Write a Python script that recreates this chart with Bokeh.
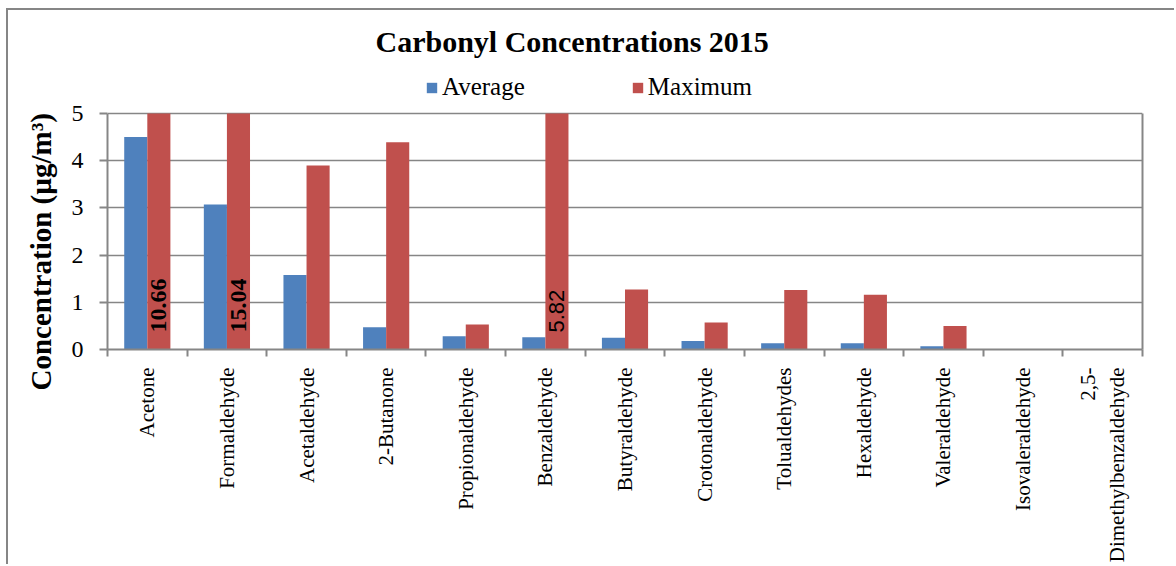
import math
import numpy as np
from bokeh.plotting import figure
from bokeh.models import (Range1d, FixedTicker, LinearAxis, Legend, LegendItem,
                          ColumnDataSource, Title)
from bokeh.embed import file_html
from bokeh.resources import INLINE

# ---------------- data ----------------
categories = ["Acetone", "Formaldehyde", "Acetaldehyde", "2-Butanone",
              "Propionaldehyde", "Benzaldehyde", "Butyraldehyde",
              "Crotonaldehyde", "Tolualdehydes", "Hexaldehyde",
              "Valeraldehyde", "Isovaleraldehyde", "2,5-\nDimethylbenzaldehyde"]
average = [4.50, 3.07, 1.58, 0.47, 0.28, 0.26, 0.25, 0.18, 0.13, 0.13, 0.07, 0.0, 0.0]
maximum = [10.66, 15.04, 3.90, 4.39, 0.53, 5.82, 1.27, 0.57, 1.26, 1.16, 0.50, 0.0, 0.0]
y_ticks = [0, 1, 2, 3, 4, 5]
y_max = 5

BLUE = "#4F81BD"
RED = "#C0504D"
GRID = "#868686"
SERIF = "Liberation Serif"

n = len(categories)
idx = np.arange(n)
centers = idx + 0.5
bar_w = 0.29

# layout (pixels): value axis 0..5 occupies 236 px; the frame extends above it
# to hold the legend.
chart_h = 236
frame_h = 286
y_end = y_max * frame_h / chart_h

p = figure(width=1168, height=556, output_backend="svg", toolbar_location=None,
           title=None,
           x_range=Range1d(0, n), y_range=Range1d(0, y_end),
           min_border_left=99, min_border_right=34, min_border_top=53,
           min_border_bottom=217, x_axis_type=None)
p.styles = {"margin-left": "8px", "margin-top": "10px",
            "box-shadow": "-2px -2px 0 0 #868686"}
p.background_fill_color = "white"
p.border_fill_color = "white"
p.outline_line_color = None

# bars (the value axis stops at 5, so taller bars are cut there)
src = ColumnDataSource(dict(x_avg=centers - bar_w / 2, x_max=centers + bar_w / 2,
                            avg=np.minimum(average, y_max),
                            mx=np.minimum(maximum, y_max)))
r_avg = p.vbar(x="x_avg", top="avg", width=bar_w, source=src,
               fill_color=BLUE, line_color=None)
r_max = p.vbar(x="x_max", top="mx", width=bar_w, source=src,
               fill_color=RED, line_color=None)

# labels for maxima exceeding the axis
over = [i for i in range(n) if maximum[i] > y_max]
lab = ColumnDataSource(dict(
    x=[centers[i] + bar_w / 2 for i in over],
    y=[0.36] * len(over),
    text=[f"{maximum[i]:.2f}" for i in over],
    font=[SERIF if maximum[i] > 10 else "Liberation Sans" for i in over],
    style=["bold" if maximum[i] > 10 else "normal" for i in over],
    size=["24px" if maximum[i] > 10 else "22px" for i in over],
))
p.text(x="x", y="y", text="text", source=lab, angle=math.pi / 2,
       text_align="left", text_baseline="middle", text_font="font",
       text_font_style="style", text_font_size="size", text_color="black")

# y axis
ya = p.yaxis[0]
ya.bounds = (0, y_max)
ya.ticker = FixedTicker(ticks=y_ticks, minor_ticks=[])
ya.major_label_text_font = SERIF
ya.major_label_text_font_size = "24px"
ya.major_label_text_color = "black"
ya.major_label_standoff = 16
ya.major_tick_out = 8
ya.major_tick_in = 0
ya.major_tick_line_color = GRID
ya.major_tick_line_width = 2
ya.axis_line_color = GRID
ya.axis_line_width = 2

# y axis title as a left-side title
ytitle = Title(text="Concentration (µg/m³)", text_font=SERIF,
               text_font_size="29px", text_font_style="bold", text_color="black",
               align="left", offset=-41, standoff=24)
p.add_layout(ytitle, "left")

# right border of the value area
ra = LinearAxis(bounds=(0, y_max), ticker=FixedTicker(ticks=[], minor_ticks=[]))
ra.major_label_text_font_size = "0px"
ra.major_tick_line_color = None
ra.minor_tick_line_color = None
ra.axis_line_color = GRID
ra.axis_line_width = 2
p.add_layout(ra, "right")

# x axis: labels at category centres, ticks at category boundaries
xa = LinearAxis(ticker=FixedTicker(ticks=list(centers), minor_ticks=list(np.arange(n + 1))))
xa.major_label_overrides = {float(c): name for c, name in zip(centers, categories)}
xa.major_label_orientation = math.pi / 2
xa.major_label_text_font = SERIF
xa.major_label_text_font_size = "21px"
xa.major_label_text_color = "black"
xa.major_label_standoff = 11
xa.major_tick_out = 0
xa.major_tick_in = 0
xa.major_tick_line_color = None
xa.minor_tick_out = 7
xa.minor_tick_in = 0
xa.minor_tick_line_color = GRID
xa.minor_tick_line_width = 2
xa.axis_line_color = GRID
xa.axis_line_width = 2
p.add_layout(xa, "below")

# grid
p.xgrid.visible = False
p.ygrid.ticker = FixedTicker(ticks=y_ticks)
p.ygrid.grid_line_color = GRID
p.ygrid.grid_line_width = 1.5

# legend inside the frame, above the value area
legend = Legend(items=[LegendItem(label="Average", renderers=[r_avg]),
                       LegendItem(label="Maximum", renderers=[r_max])],
                orientation="horizontal", location=(318, 248),
                glyph_width=13, glyph_height=13, label_standoff=4, spacing=106,
                padding=0, margin=0, border_line_color=None,
                background_fill_alpha=0,
                label_text_font=SERIF, label_text_font_size="25px",
                label_text_color="black")
p.add_layout(legend)

# chart title
title = Title(text="Carbonyl  Concentrations 2015", text_font=SERIF,
              text_font_size="30px", text_font_style="bold", text_color="black",
              align="left", offset=268, standoff=11)
p.add_layout(title, "above")

open("out.html", "w").write(file_html(p, INLINE))
